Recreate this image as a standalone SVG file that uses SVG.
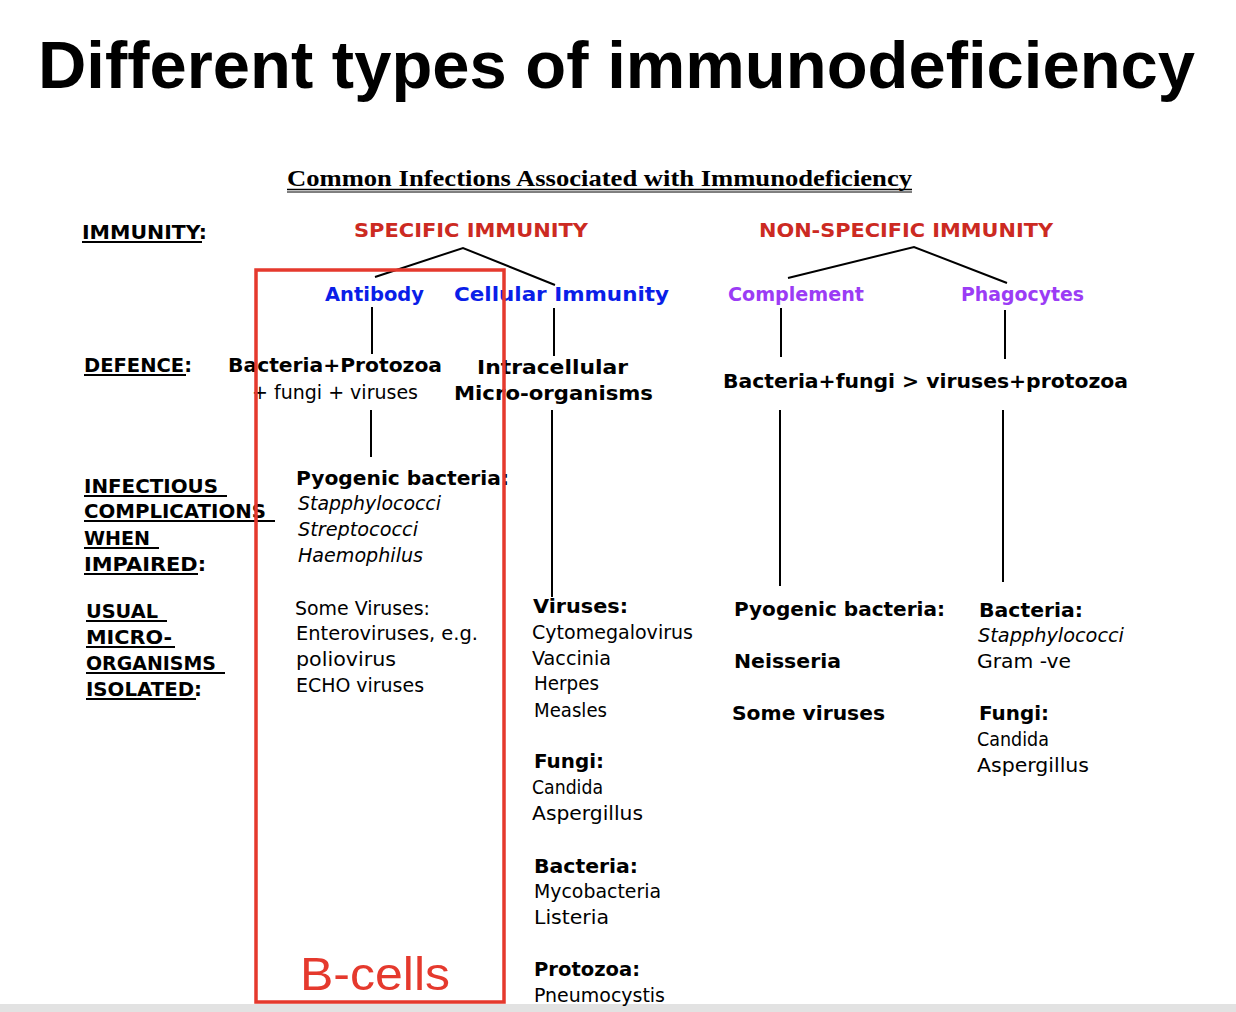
<svg xmlns="http://www.w3.org/2000/svg" width="1236" height="1012" viewBox="0 0 1236 1012">
<style>
text{font-family:"DejaVu Sans",Verdana,sans-serif;font-size:19px;fill:#000}
.b{font-weight:bold}
.r{font-weight:normal}
.i{font-style:italic}
.hd{font-weight:bold;font-size:20px}
.red{fill:#cc2a22;font-weight:bold;font-size:20px}
.blue{fill:#0a1ee8;font-weight:bold;font-size:20px}
.pur{fill:#9b3cf5;font-weight:bold;font-size:20px}
.ul{stroke:#000;stroke-width:2}
.con line,.con polyline{stroke:#000;stroke-width:2;fill:none}
</style>
<rect width="1236" height="1012" fill="#fff"/>
<rect x="0" y="1004" width="1236" height="8" fill="#e2e2e2"/>

<g id="title">
<text x="38" y="88" style="font-family:'Liberation Sans',Arial,sans-serif;font-weight:bold;font-size:67px" textLength="1157" lengthAdjust="spacingAndGlyphs">Different types of immunodeficiency</text>
</g>

<g id="subtitle">
<text x="287" y="186" style="font-family:'Liberation Serif','Times New Roman',serif;font-weight:bold;font-size:24px" textLength="625" lengthAdjust="spacingAndGlyphs">Common Infections Associated with Immunodeficiency</text>
<line x1="287" y1="189.5" x2="912" y2="189.5" stroke="#000" stroke-width="1.5"/>
<line x1="287" y1="192" x2="912" y2="192" stroke="#000" stroke-width="1"/>
</g>

<g id="row-labels">
<text class="hd" x="82" y="239" textLength="125" lengthAdjust="spacingAndGlyphs">IMMUNITY:</text>
<line class="ul" x1="82" y1="242" x2="202" y2="242"/>
<text class="hd" x="84" y="372" textLength="108" lengthAdjust="spacingAndGlyphs">DEFENCE:</text>
<line class="ul" x1="84" y1="375" x2="186" y2="375"/>
<text class="hd" x="84" y="493" textLength="134" lengthAdjust="spacingAndGlyphs">INFECTIOUS</text>
<line class="ul" x1="84" y1="496" x2="227" y2="496"/>
<text class="hd" x="84" y="518" textLength="182" lengthAdjust="spacingAndGlyphs">COMPLICATIONS</text>
<line class="ul" x1="84" y1="521" x2="275" y2="521"/>
<text class="hd" x="84" y="545" textLength="66" lengthAdjust="spacingAndGlyphs">WHEN</text>
<line class="ul" x1="84" y1="548" x2="159" y2="548"/>
<text class="hd" x="84" y="571" textLength="122" lengthAdjust="spacingAndGlyphs">IMPAIRED:</text>
<line class="ul" x1="84" y1="574" x2="198" y2="574"/>
<text class="hd" x="86" y="618" textLength="72" lengthAdjust="spacingAndGlyphs">USUAL</text>
<line class="ul" x1="86" y1="621" x2="167" y2="621"/>
<text class="hd" x="86" y="644" textLength="86" lengthAdjust="spacingAndGlyphs">MICRO-</text>
<line class="ul" x1="86" y1="647" x2="175" y2="647"/>
<text class="hd" x="86" y="670" textLength="130" lengthAdjust="spacingAndGlyphs">ORGANISMS</text>
<line class="ul" x1="86" y1="673" x2="225" y2="673"/>
<text class="hd" x="86" y="696" textLength="116" lengthAdjust="spacingAndGlyphs">ISOLATED:</text>
<line class="ul" x1="86" y1="699" x2="196" y2="699"/>
</g>

<g id="specific-immunity">
<text class="red" x="354" y="237" textLength="234" lengthAdjust="spacingAndGlyphs">SPECIFIC IMMUNITY</text>
</g>
<g id="non-specific-immunity">
<text class="red" x="759" y="237" textLength="294" lengthAdjust="spacingAndGlyphs">NON-SPECIFIC IMMUNITY</text>
</g>

<g id="antibody">
<text class="blue" x="325" y="301" textLength="99" lengthAdjust="spacingAndGlyphs">Antibody</text>
</g>
<g id="cellular-immunity">
<text class="blue" x="454" y="301" textLength="215" lengthAdjust="spacingAndGlyphs">Cellular Immunity</text>
</g>
<g id="complement">
<text class="pur" x="728" y="301" textLength="136" lengthAdjust="spacingAndGlyphs">Complement</text>
</g>
<g id="phagocytes">
<text class="pur" x="961" y="301" textLength="123" lengthAdjust="spacingAndGlyphs">Phagocytes</text>
</g>

<g id="defence-antibody">
<text class="b" x="228" y="372" textLength="214" lengthAdjust="spacingAndGlyphs">Bacteria+Protozoa</text>
<text class="r" x="252" y="399" textLength="166" lengthAdjust="spacingAndGlyphs">+ fungi + viruses</text>
</g>
<g id="defence-cellular">
<text class="b" x="477" y="374" textLength="151" lengthAdjust="spacingAndGlyphs">Intracellular</text>
<text class="b" x="454" y="400" textLength="199" lengthAdjust="spacingAndGlyphs">Micro-organisms</text>
</g>
<g id="defence-nonspecific">
<text class="b" x="723" y="388" textLength="405" lengthAdjust="spacingAndGlyphs">Bacteria+fungi &gt; viruses+protozoa</text>
</g>

<g id="complications-antibody">
<text class="b" x="296" y="485" textLength="213" lengthAdjust="spacingAndGlyphs">Pyogenic bacteria:</text>
<text class="r i" x="298" y="510" textLength="143" lengthAdjust="spacingAndGlyphs">Stapphylococci</text>
<text class="r i" x="298" y="536" textLength="120" lengthAdjust="spacingAndGlyphs">Streptococci</text>
<text class="r i" x="298" y="562" textLength="125" lengthAdjust="spacingAndGlyphs">Haemophilus</text>
</g>
<g id="organisms-antibody">
<text class="r" x="295" y="615" textLength="135" lengthAdjust="spacingAndGlyphs">Some Viruses:</text>
<text class="r" x="296" y="640" textLength="182" lengthAdjust="spacingAndGlyphs">Enteroviruses, e.g.</text>
<text class="r" x="296" y="666" textLength="100" lengthAdjust="spacingAndGlyphs">poliovirus</text>
<text class="r" x="296" y="692" textLength="128" lengthAdjust="spacingAndGlyphs">ECHO viruses</text>
</g>

<g id="organisms-cellular">
<text class="b" x="533" y="613" textLength="95" lengthAdjust="spacingAndGlyphs">Viruses:</text>
<text class="r" x="532" y="639" textLength="161" lengthAdjust="spacingAndGlyphs">Cytomegalovirus</text>
<text class="r" x="532" y="665" textLength="79" lengthAdjust="spacingAndGlyphs">Vaccinia</text>
<text class="r" x="534" y="690" textLength="65" lengthAdjust="spacingAndGlyphs">Herpes</text>
<text class="r" x="534" y="717" textLength="73" lengthAdjust="spacingAndGlyphs">Measles</text>
<text class="b" x="534" y="768" textLength="70" lengthAdjust="spacingAndGlyphs">Fungi:</text>
<text class="r" x="532" y="794" textLength="71" lengthAdjust="spacingAndGlyphs">Candida</text>
<text class="r" x="532" y="820" textLength="111" lengthAdjust="spacingAndGlyphs">Aspergillus</text>
<text class="b" x="534" y="873" textLength="104" lengthAdjust="spacingAndGlyphs">Bacteria:</text>
<text class="r" x="534" y="898" textLength="127" lengthAdjust="spacingAndGlyphs">Mycobacteria</text>
<text class="r" x="534" y="924" textLength="75" lengthAdjust="spacingAndGlyphs">Listeria</text>
<text class="b" x="534" y="976" textLength="106" lengthAdjust="spacingAndGlyphs">Protozoa:</text>
<text class="r" x="534" y="1002" textLength="131" lengthAdjust="spacingAndGlyphs">Pneumocystis</text>
</g>

<g id="organisms-complement">
<text class="b" x="734" y="616" textLength="211" lengthAdjust="spacingAndGlyphs">Pyogenic bacteria:</text>
<text class="b" x="734" y="668" textLength="107" lengthAdjust="spacingAndGlyphs">Neisseria</text>
<text class="b" x="732" y="720" textLength="153" lengthAdjust="spacingAndGlyphs">Some viruses</text>
</g>

<g id="organisms-phagocytes">
<text class="b" x="979" y="617" textLength="104" lengthAdjust="spacingAndGlyphs">Bacteria:</text>
<text class="r i" x="978" y="642" textLength="146" lengthAdjust="spacingAndGlyphs">Stapphylococci</text>
<text class="r" x="977" y="668" textLength="94" lengthAdjust="spacingAndGlyphs">Gram -ve</text>
<text class="b" x="979" y="720" textLength="70" lengthAdjust="spacingAndGlyphs">Fungi:</text>
<text class="r" x="977" y="746" textLength="72" lengthAdjust="spacingAndGlyphs">Candida</text>
<text class="r" x="977" y="772" textLength="112" lengthAdjust="spacingAndGlyphs">Aspergillus</text>
</g>

<g id="connectors" class="con">
<polyline points="375,277 463,248 555,285"/>
<polyline points="788,278 914,247 1007,283"/>
<line x1="372" y1="307" x2="372" y2="354"/>
<line x1="554" y1="308" x2="554" y2="356"/>
<line x1="781" y1="308" x2="781" y2="357"/>
<line x1="1005" y1="310" x2="1005" y2="359"/>
<line x1="371" y1="410" x2="371" y2="457"/>
<line x1="552" y1="410" x2="552" y2="597"/>
<line x1="780" y1="410" x2="780" y2="586"/>
<line x1="1003" y1="410" x2="1003" y2="582"/>
</g>

<g id="b-cells">
<rect x="256" y="270" width="248" height="732" fill="none" stroke="#e5392d" stroke-width="3.5"/>
<text x="300" y="990" style="font-family:'Liberation Sans',Arial,sans-serif;font-size:47px;fill:#e5392d" textLength="150" lengthAdjust="spacingAndGlyphs">B-cells</text>
</g>
</svg>
